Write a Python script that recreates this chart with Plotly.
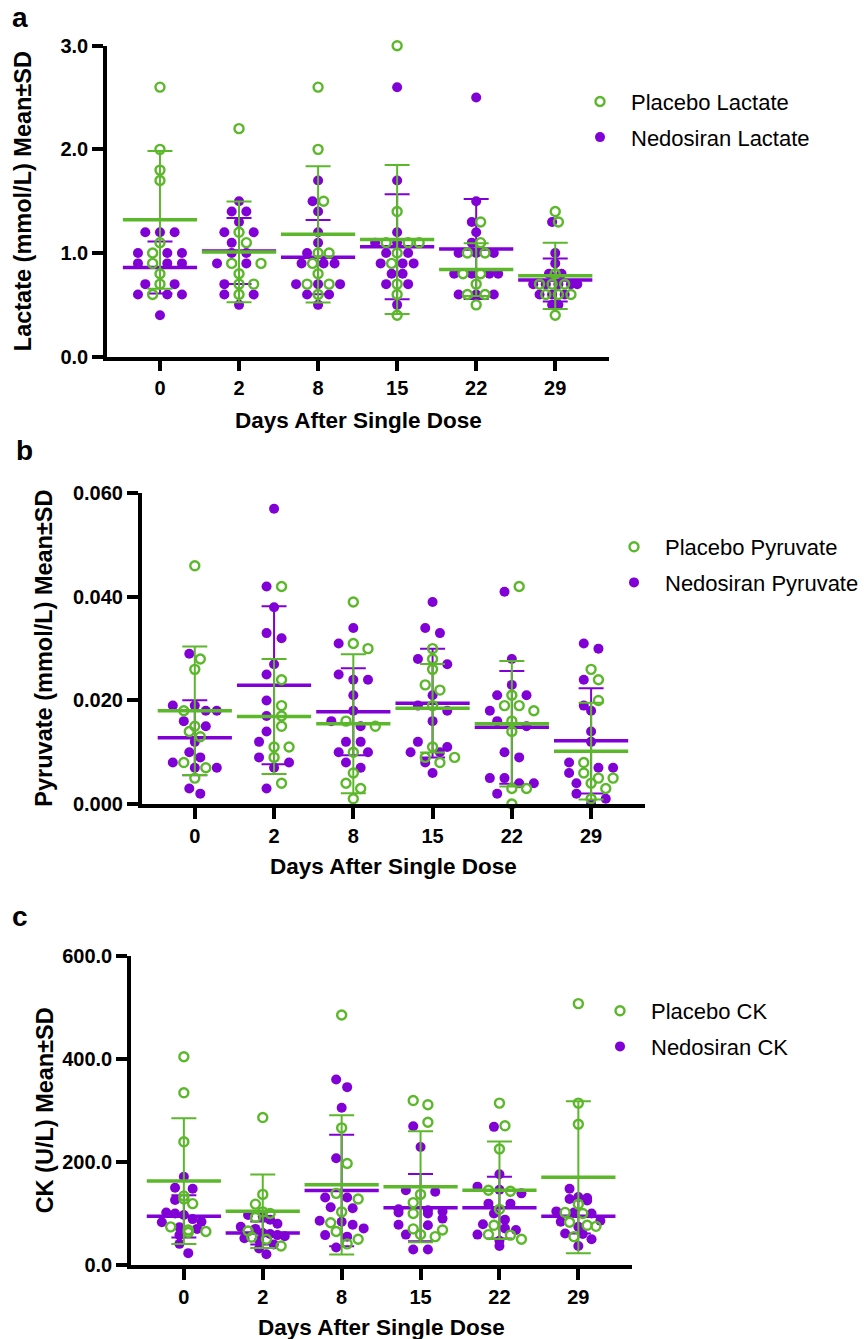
import numpy as np
import plotly.graph_objects as go

# ---------------- data ----------------
days = ["0", "2", "8", "15", "22", "29"]

placebo_lactate = [
    [2.6, 2.0, 1.8, 1.7, 1.1, 1.0, 0.9, 0.8, 0.7, 0.6],
    [2.2, 1.2, 1.1, 0.9, 0.9, 0.8, 0.7, 0.7, 0.6],
    [2.6, 2.0, 1.5, 1.0, 1.0, 0.9, 0.8, 0.7, 0.7, 0.6],
    [3.0, 1.4, 1.1, 1.1, 1.1, 1.0, 0.9, 0.7, 0.6, 0.4],
    [1.3, 1.1, 1.0, 1.0, 0.8, 0.8, 0.7, 0.6, 0.6, 0.5],
    [1.4, 1.3, 0.8, 0.7, 0.7, 0.7, 0.6, 0.6, 0.6, 0.4],
]
nedosiran_lactate = [
    [1.2, 1.2, 1.2, 1.0, 1.0, 1.0, 0.9, 0.9, 0.9, 0.7, 0.7, 0.6, 0.6, 0.6, 0.4],
    [1.5, 1.4, 1.4, 1.3, 1.2, 1.2, 1.1, 1.0, 1.0, 0.9, 0.9, 0.7, 0.6, 0.6, 0.5],
    [1.7, 1.5, 1.4, 1.2, 1.1, 1.0, 0.9, 0.9, 0.9, 0.7, 0.7, 0.7, 0.6, 0.6, 0.5],
    [2.6, 1.7, 1.2, 1.1, 1.1, 1.0, 1.0, 0.9, 0.9, 0.9, 0.8, 0.8, 0.7, 0.7, 0.5],
    [2.5, 1.5, 1.3, 1.2, 1.1, 1.0, 1.0, 1.0, 0.8, 0.8, 0.8, 0.8, 0.6, 0.6, 0.6],
    [1.3, 1.0, 0.9, 0.8, 0.8, 0.7, 0.7, 0.7, 0.7, 0.7, 0.6, 0.6, 0.6, 0.5, 0.5],
]

placebo_pyruvate = [
    [0.046, 0.028, 0.026, 0.018, 0.015, 0.014, 0.013, 0.008, 0.007, 0.005],
    [0.042, 0.024, 0.019, 0.017, 0.015, 0.011, 0.011, 0.009, 0.004],
    [0.039, 0.031, 0.030, 0.016, 0.015, 0.010, 0.006, 0.004, 0.003, 0.001],
    [0.030, 0.028, 0.026, 0.023, 0.022, 0.019, 0.011, 0.009, 0.009, 0.008],
    [0.042, 0.021, 0.019, 0.019, 0.018, 0.016, 0.014, 0.003, 0.003, 0.000],
    [0.026, 0.024, 0.020, 0.008, 0.006, 0.005, 0.005, 0.004, 0.003, 0.001],
]
nedosiran_pyruvate = [
    [0.029, 0.019, 0.019, 0.018, 0.018, 0.016, 0.015, 0.012, 0.010, 0.009, 0.008, 0.007, 0.007, 0.003, 0.002],
    [0.057, 0.042, 0.038, 0.033, 0.032, 0.027, 0.025, 0.020, 0.017, 0.014, 0.012, 0.009, 0.008, 0.007, 0.003],
    [0.034, 0.031, 0.025, 0.024, 0.024, 0.021, 0.018, 0.016, 0.015, 0.012, 0.012, 0.010, 0.010, 0.008, 0.007],
    [0.039, 0.034, 0.033, 0.028, 0.027, 0.021, 0.019, 0.018, 0.016, 0.012, 0.011, 0.010, 0.010, 0.008, 0.006],
    [0.041, 0.028, 0.023, 0.021, 0.021, 0.018, 0.016, 0.015, 0.010, 0.009, 0.005, 0.005, 0.004, 0.004, 0.002],
    [0.031, 0.030, 0.024, 0.019, 0.018, 0.014, 0.012, 0.008, 0.007, 0.007, 0.006, 0.004, 0.002, 0.001, 0.000],
]

placebo_ck = [
    [404, 334, 239, 134, 128, 119, 74, 68, 65, 63],
    [286, 137, 118, 103, 100, 92, 66, 54, 50, 37],
    [485, 266, 197, 139, 128, 103, 82, 65, 50, 41],
    [319, 311, 277, 137, 121, 100, 70, 68, 59, 55],
    [314, 270, 225, 145, 143, 108, 77, 59, 58, 50],
    [507, 314, 273, 118, 102, 100, 83, 77, 75, 55],
]
nedosiran_ck = [
    [171, 150, 148, 126, 102, 100, 97, 89, 84, 83, 73, 70, 58, 41, 23],
    [97, 94, 88, 80, 74, 70, 62, 60, 58, 56, 52, 48, 40, 32, 21],
    [360, 345, 305, 207, 131, 131, 112, 110, 86, 84, 78, 71, 58, 55, 34],
    [269, 229, 145, 142, 108, 106, 104, 102, 100, 90, 78, 77, 59, 30, 30],
    [268, 176, 152, 146, 139, 119, 119, 100, 88, 79, 71, 68, 59, 47, 37],
    [148, 132, 130, 128, 125, 104, 102, 100, 86, 84, 74, 61, 60, 50, 37],
]

lactate_ticks = [0.0, 1.0, 2.0, 3.0]
pyruvate_ticks = [0.0, 0.02, 0.04, 0.06]
ck_ticks = [0.0, 200.0, 400.0, 600.0]

# ---------------- styling ----------------
W, H = 864, 1339
GREEN = "#5CB82B"
PURPLE = "#8000D6"
FONT = "Arial, Liberation Sans, Helvetica, sans-serif"
XR = [-0.67, 5.68]


def fx(p):
    return p / W


def fy(p):
    return 1 - p / H


def swarm_offsets(groups, px_per_unit, px_per_x, thresh_px=9.5, span_px=44.0, max_step_px=15.0):
    """Prism-like scatter spreading: bin close values, spread each bin centred."""
    pts = [(v, g, i) for g, vals in enumerate(groups) for i, v in enumerate(vals)]
    pts.sort(key=lambda t: (-t[0], t[1]))
    bins, cur, start = [], [], None
    for p in pts:
        if cur and (start - p[0]) * px_per_unit >= thresh_px:
            bins.append(cur)
            cur = []
        if not cur:
            start = p[0]
        cur.append(p)
    if cur:
        bins.append(cur)
    m = max(len(b) for b in bins)
    step = min(max_step_px, span_px / (m - 1)) if m > 1 else 0.0
    offs = [np.zeros(len(v)) for v in groups]
    for b in bins:
        byg = [[p for p in b if p[1] == g] for g in range(len(groups))]
        order = []
        while any(byg):
            for g in range(len(groups)):
                if byg[g]:
                    order.append(byg[g].pop(0))
        k = len(order)
        for j, p in enumerate(order):
            offs[p[1]][p[2]] = (j - (k - 1) / 2) * step / px_per_x
    return offs


panels = [
    dict(key="", placebo=placebo_lactate, ned=nedosiran_lactate, names=("Placebo Lactate", "Nedosiran Lactate"),
         xd=(107, 609), yd=(45.7, 356.7), yr=[0, 3.0], ticks=lactate_ticks, fmt=".1f",
         ytitle="Lactate (mmol/L) Mean±SD", ytx=23, xty=421, letter="a", lxy=(20, 18),
         leg=(599, 101.7)),
    dict(key="2", placebo=placebo_pyruvate, ned=nedosiran_pyruvate, names=("Placebo Pyruvate", "Nedosiran Pyruvate"),
         xd=(141.7, 645), yd=(493.3, 804), yr=[0, 0.060], ticks=pyruvate_ticks, fmt=".3f",
         ytitle="Pyruvate (mmol/L) Mean±SD", ytx=44, xty=866, letter="b", lxy=(24, 450),
         leg=(633, 547)),
    dict(key="3", placebo=placebo_ck, ned=nedosiran_ck, names=("Placebo CK", "Nedosiran CK"),
         xd=(131, 632), yd=(955.7, 1265), yr=[0, 600.0], ticks=ck_ticks, fmt=".1f",
         ytitle="CK (U/L) Mean±SD", ytx=45, xty=1327, letter="c", lxy=(20, 916),
         leg=(619, 1011)),
]

fig = go.Figure()
annotations = []
layout_axes = {}

for pi, P in enumerate(panels):
    k = P["key"]
    xa, ya = "x" + k, "y" + k
    leg = "legend" + k
    px_per_unit = (P["yd"][1] - P["yd"][0]) / (P["yr"][1] - P["yr"][0])
    px_per_x = (P["xd"][1] - P["xd"][0]) / (XR[1] - XR[0])

    xs_p, ys_p, xs_n, ys_n = [], [], [], []
    for i in range(len(days)):
        offn, offp = swarm_offsets([P["ned"][i], P["placebo"][i]], px_per_unit, px_per_x)
        xs_n += list(i + offn)
        ys_n += list(P["ned"][i])
        xs_p += list(i + offp)
        ys_p += list(P["placebo"][i])

    mean_n = [float(np.mean(v)) for v in P["ned"]]
    sd_n = [float(np.std(v, ddof=1)) for v in P["ned"]]
    mean_p = [float(np.mean(v)) for v in P["placebo"]]
    sd_p = [float(np.std(v, ddof=1)) for v in P["placebo"]]

    fig.add_trace(go.Scatter(
        x=xs_n, y=ys_n, mode="markers", name=P["names"][1], xaxis=xa, yaxis=ya,
        legend=leg, legendgroup=f"n{pi}", legendrank=2, cliponaxis=False,
        marker=dict(symbol="circle", size=10, color=PURPLE, line=dict(width=0)),
        hoverinfo="skip"))
    fig.add_trace(go.Scatter(
        x=list(range(len(days))), y=mean_n, mode="markers", showlegend=False, xaxis=xa, yaxis=ya,
        legend=leg, cliponaxis=False,
        marker=dict(symbol="line-ew", size=53, color=PURPLE, line=dict(width=3.5, color=PURPLE)),
        error_y=dict(type="data", array=sd_n, visible=True, color=PURPLE, thickness=2, width=12.5),
        hoverinfo="skip"))
    fig.add_trace(go.Scatter(
        x=xs_p, y=ys_p, mode="markers", name=P["names"][0], xaxis=xa, yaxis=ya,
        legend=leg, legendgroup=f"p{pi}", legendrank=1, cliponaxis=False,
        marker=dict(symbol="circle-open", size=9, color=GREEN, line=dict(width=2.4, color=GREEN)),
        hoverinfo="skip"))
    fig.add_trace(go.Scatter(
        x=list(range(len(days))), y=mean_p, mode="markers", showlegend=False, xaxis=xa, yaxis=ya,
        legend=leg, cliponaxis=False,
        marker=dict(symbol="line-ew", size=53, color=GREEN, line=dict(width=3.5, color=GREEN)),
        error_y=dict(type="data", array=sd_p, visible=True, color=GREEN, thickness=2, width=12.5),
        hoverinfo="skip"))

    common = dict(showline=True, linewidth=3.5, linecolor="black", ticks="outside", ticklen=11,
                  tickwidth=3.5, tickcolor="black", showgrid=False, zeroline=False,
                  automargin=False,
                  tickfont=dict(family=FONT, size=20, color="black", weight="bold"))
    layout_axes["xaxis" + k] = dict(
        domain=[fx(P["xd"][0]), fx(P["xd"][1])], anchor=ya, range=XR,
        tickmode="array", tickvals=list(range(len(days))), ticktext=days,
        ticklabelstandoff=0, **common)
    layout_axes["yaxis" + k] = dict(
        domain=[fy(P["yd"][1]), fy(P["yd"][0])], anchor=xa, range=P["yr"],
        tickmode="array", tickvals=P["ticks"], tickformat=P["fmt"], **common)

    lx, ly = P["leg"]
    layout_axes[leg] = dict(
        x=fx(lx - 30), y=fy(ly - 21), xanchor="left", yanchor="top",
        font=dict(family=FONT, size=22, color="black"), itemwidth=52,
        bgcolor="rgba(0,0,0,0)", traceorder="grouped", tracegroupgap=4)

    annotations.append(dict(
        text=P["ytitle"], textangle=-90, x=fx(P["ytx"]), y=fy((P["yd"][0] + P["yd"][1]) / 2),
        xref="paper", yref="paper", xanchor="center", yanchor="middle", showarrow=False,
        font=dict(family=FONT, size=23.5, color="black", weight="bold")))
    annotations.append(dict(
        text="Days After Single Dose", x=fx((P["xd"][0] + P["xd"][1]) / 2), y=fy(P["xty"]),
        xref="paper", yref="paper", xanchor="center", yanchor="middle", showarrow=False,
        font=dict(family=FONT, size=22.5, color="black", weight="bold")))
    annotations.append(dict(
        text=P["letter"], x=fx(P["lxy"][0]), y=fy(P["lxy"][1]),
        xref="paper", yref="paper", xanchor="center", yanchor="middle", showarrow=False,
        font=dict(family=FONT, size=28, color="black", weight="bold")))

fig.update_layout(
    width=W, height=H, margin=dict(l=0, r=0, t=0, b=0, autoexpand=False),
    paper_bgcolor="white", plot_bgcolor="white", showlegend=True,
    annotations=annotations, **layout_axes)

fig.write_html("out.html", config={"displayModeBar": False},
               post_script="document.body.style.margin='0';document.body.style.padding='0';")
